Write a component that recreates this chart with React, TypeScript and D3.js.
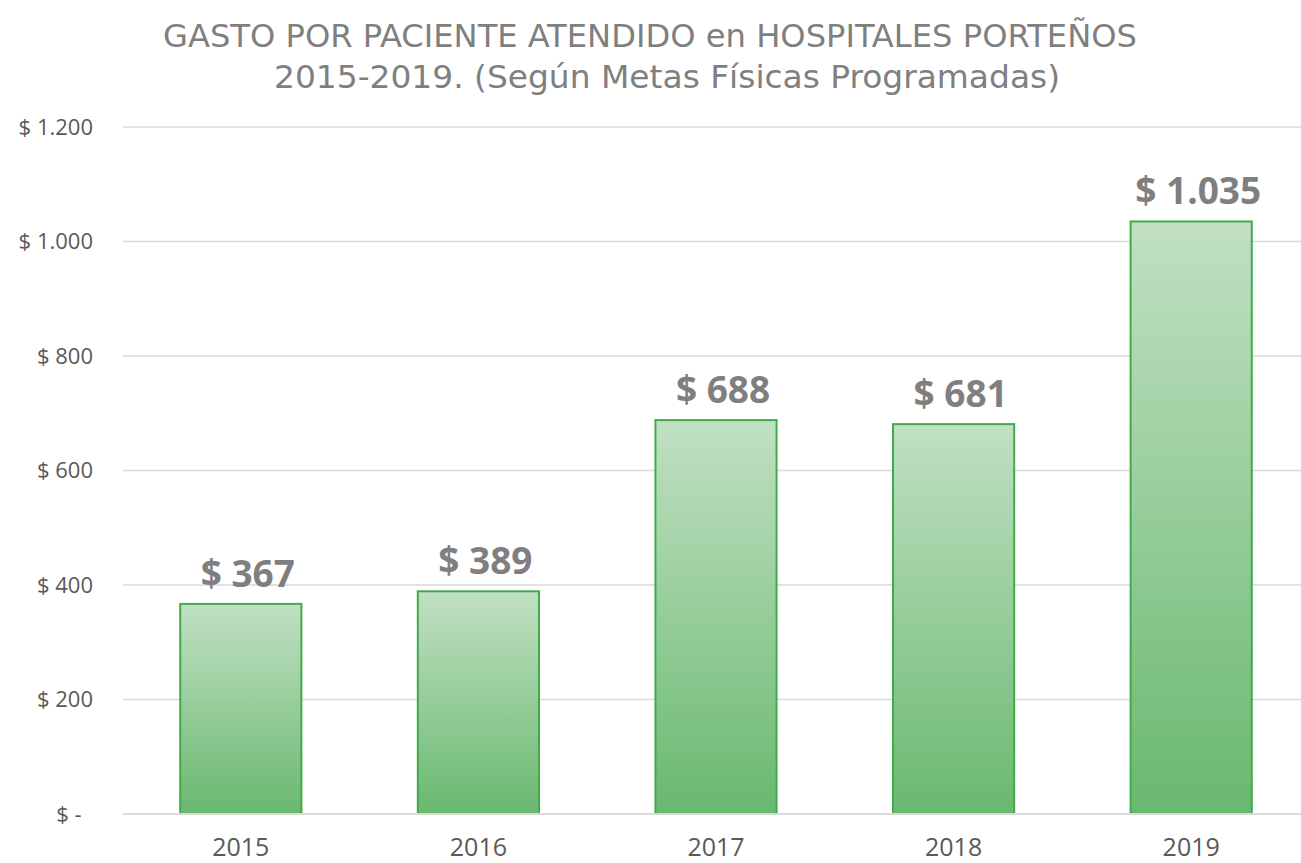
import React from "react";
import * as d3 from "d3";

const years = ["2015", "2016", "2017", "2018", "2019"];
const values = [367, 389, 688, 681, 1035];
const valueLabels = ["$ 367", "$ 389", "$ 688", "$ 681", "$ 1.035"];
const yTicks = [0, 200, 400, 600, 800, 1000, 1200];
const yTickLabels = ["$ -\u00A0\u00A0", "$ 200", "$ 400", "$ 600", "$ 800", "$ 1.000", "$ 1.200"];
const titleLines = [
  "GASTO POR PACIENTE ATENDIDO en HOSPITALES PORTEÑOS",
  "2015-2019. (Según Metas Físicas Programadas)",
];

const W = 1301;
const H = 863;

export default function App() {
  const x = d3
    .scaleBand<string>()
    .domain(years)
    .range([122, 1310])
    .paddingInner(0.49)
    .paddingOuter(0.245);
  const y = d3.scaleLinear().domain([0, 1200]).range([814, 127]);

  const axisFont = "'Open Sans', 'Noto Sans', sans-serif";

  return (
    <svg
      width={W}
      height={H}
      style={{ position: "absolute", left: 0, top: 0, background: "#fff" }}
    >
      <defs>
        <linearGradient id="barGrad" x1="0" y1="0" x2="0" y2="1">
          <stop offset="0%" stopColor="#c1e0c3" />
          <stop offset="100%" stopColor="#69b96f" />
        </linearGradient>
      </defs>

      {titleLines.map((t, i) => (
        <text
          key={i}
          x={i === 0 ? 650 : 667}
          y={47 + i * 41}
          textAnchor="middle"
          fontFamily="'DejaVu Sans Condensed', 'DejaVu Sans', sans-serif"
          fontSize={32}
          fill="#7f7f7f"
          textLength={i === 0 ? 974 : 786}
          lengthAdjust="spacingAndGlyphs"
        >
          {t}
        </text>
      ))}

      {yTicks.map((t, i) => (
        <g key={t}>
          {t !== 0 && (
            <line x1={123} x2={W} y1={y(t)} y2={y(t)} stroke="#d9d9d9" strokeWidth={1.5} />
          )}
          <text
            x={93}
            y={y(t)}
            dy="0.35em"
            textAnchor="end"
            fontFamily={axisFont}
            fontSize={22}
            fill="#595959"
            style={{ whiteSpace: "pre" }}
          >
            {yTickLabels[i]}
          </text>
        </g>
      ))}

      {years.map((yr, i) => {
        const x0 = x(yr)!;
        const bw = x.bandwidth();
        return (
          <g key={yr}>
            <rect
              x={x0}
              y={y(values[i])}
              width={bw}
              height={y(0) - y(values[i])}
              fill="url(#barGrad)"
              stroke="#41ab4a"
              strokeWidth={2}
            />
            <text
              x={x0 + bw / 2 + 7}
              y={y(values[i]) - 17}
              textAnchor="middle"
              fontFamily={axisFont}
              fontWeight="bold"
              fontSize={37}
              fill="#7f7f7f"
            >
              {valueLabels[i]}
            </text>
            <text
              x={x0 + bw / 2}
              y={856}
              textAnchor="middle"
              fontFamily={axisFont}
              fontSize={25}
              fill="#595959"
            >
              {yr}
            </text>
          </g>
        );
      })}

      <line x1={123} x2={W} y1={y(0)} y2={y(0)} stroke="#d9d9d9" strokeWidth={2} />
    </svg>
  );
}
